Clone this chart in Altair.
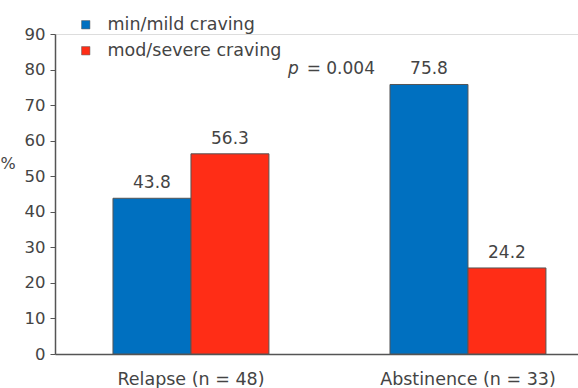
import altair as alt
import pandas as pd

# Craving severity by outcome group (percent of patients)
groups = ["Relapse (n = 48)", "Abstinence (n = 33)"]
series = ["min/mild craving", "mod/severe craving"]
relapse_vals = [43.8, 56.3]
abstinence_vals = [75.8, 24.2]
y_ticks = [0, 10, 20, 30, 40, 50, 60, 70, 80, 90]
colors = ["#0070C0", "#FF2D16"]
p_value = "= 0.004"

rows = []
for g, vals in zip(groups, [relapse_vals, abstinence_vals]):
    for s, v in zip(series, vals):
        rows.append({"group": g, "series": s, "value": v, "label": f"{v:.1f}"})
df = pd.DataFrame(rows)

FONT = "DejaVu Sans"
TXT = "#444444"
LINE = "#555555"

x_enc = alt.X(
    "group:N",
    sort=groups,
    scale=alt.Scale(paddingInner=0.437, paddingOuter=0.1625, align=0.644),
    axis=alt.Axis(
        title=None, ticks=False, labelAngle=0, labelFontSize=17.5, labelColor=TXT,
        labelFont=FONT, labelPadding=16, domainColor=LINE, domainWidth=1.5,
    ),
)
xoff = alt.XOffset("series:N", sort=series, scale=alt.Scale(paddingInner=0, paddingOuter=0))
y_enc = alt.Y(
    "value:Q",
    scale=alt.Scale(domain=[0, 90], nice=False, zero=True),
    axis=alt.Axis(
        values=y_ticks, grid=False, labelOverlap=False, title="%", titleAngle=0,
        titleX=-55, titleY=129, titleAlign="left", titleBaseline="middle",
        titleFontWeight="normal", titleFontSize=16, titleColor=TXT, titleFont=FONT,
        labelFontSize=16.5, labelColor=TXT, labelFont=FONT, labelPadding=5,
        tickSize=5, tickColor=LINE, domainColor=LINE, domainWidth=1.5,
    ),
)

base = alt.Chart(df)

bars = base.mark_bar(stroke=LINE, strokeWidth=1).encode(
    x=x_enc,
    xOffset=xoff,
    y=y_enc,
    color=alt.Color(
        "series:N",
        sort=series,
        scale=alt.Scale(domain=series, range=colors),
        legend=alt.Legend(
            title=None, orient="none", legendX=22, legendY=-18, symbolType="square",
            symbolSize=70, symbolStrokeColor=LINE, symbolStrokeWidth=0.5,
            labelFontSize=17.5, labelColor=TXT, labelFont=FONT, labelOffset=13,
            labelLimit=400, rowPadding=7, padding=0,
        ),
    ),
)

labels = base.mark_text(
    baseline="bottom", dy=-6, fontSize=17, color=TXT, font=FONT
).encode(
    x=alt.X("group:N", sort=groups),
    xOffset=alt.XOffset("series:N", sort=series),
    y=y_enc,
    text="label:N",
)

# p-value annotation next to the abstinence min/mild bar label
pdf = df[(df["group"] == groups[1]) & (df["series"] == series[0])].assign(p="p", rest=p_value)
p_italic = alt.Chart(pdf).mark_text(
    align="left", baseline="bottom", dx=-141, dy=-6, fontSize=17, fontStyle="italic",
    color=TXT, font=FONT,
).encode(
    x=alt.X("group:N", sort=groups),
    xOffset=alt.XOffset("series:N", sort=series),
    y=y_enc,
    text="p:N",
)
p_rest = alt.Chart(pdf).mark_text(
    align="right", baseline="bottom", dx=-54, dy=-6, fontSize=17, color=TXT, font=FONT,
).encode(
    x=alt.X("group:N", sort=groups),
    xOffset=alt.XOffset("series:N", sort=series),
    y=y_enc,
    text="rest:N",
)

chart = (
    alt.layer(bars, labels, p_italic, p_rest)
    .properties(
        width=523, height=320,
        padding={"left": 55, "top": 34, "right": 0, "bottom": 34},
        autosize=alt.AutoSizeParams(type="none"),
    )
    .configure_view(stroke=None)
    .configure(background="white")
)

chart.save("out.html", embed_options={"renderer": "svg", "actions": False})
